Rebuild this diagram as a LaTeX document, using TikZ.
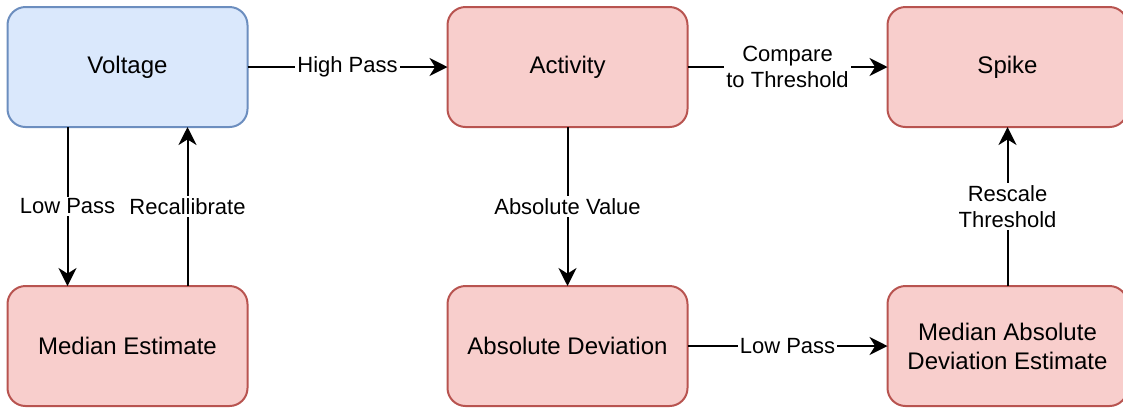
\documentclass[tikz,border=0pt]{standalone}
\usepackage{fontspec}
\setmainfont{Liberation Sans}
\usepackage{xcolor}
\usepackage{tikz}
\usetikzlibrary{arrows.meta,positioning,calc}

\definecolor{bluefill}{HTML}{DAE8FC}
\definecolor{blueline}{HTML}{6C8EBF}
\definecolor{redfill}{HTML}{F8CECC}
\definecolor{redline}{HTML}{B85450}

\begin{document}
\begin{tikzpicture}[
    font=\fontsize{12pt}{14.5pt}\selectfont,
    box/.style={rectangle, draw, line width=1pt, rounded corners=9pt, minimum width=120pt, minimum height=60pt, align=center, inner sep=0pt, outer sep=0pt},
    redbox/.style={box, fill=redfill, draw=redline},
    arrow/.style={-{Stealth[length=9pt, width=9pt, inset=2.8pt]}, line width=1pt},
    lbl/.style={fill=white, inner sep=1pt, align=center, font=\fontsize{11pt}{13pt}\selectfont}
]
    % Frame
    \useasboundingbox (0,0) rectangle (561.5pt,-204.5pt);

    % Top row
    \node[box, fill=bluefill, draw=blueline] (voltage) at (63.75pt,-33.5pt) {Voltage};
    \node[redbox, right=100pt of voltage] (activity) {Activity};
    \node[redbox, right=100pt of activity] (spike) {Spike};

    % Bottom row
    \node[redbox, below=79.5pt of voltage] (median) {Median Estimate};
    \node[redbox, below=79.5pt of activity] (absdev) {Absolute Deviation};
    \node[redbox, below=79.5pt of spike] (mad) {Median Absolute\\Deviation Estimate};

    % Median loop
    \draw[arrow] ([xshift=-30pt]voltage.south) -- node[lbl] {Low Pass} ([xshift=-30pt]median.north);
    \draw[arrow] ([xshift=30pt]median.north) -- node[lbl] {Recallibrate} ([xshift=30pt]voltage.south);

    % Detection chain
    \draw[arrow] (voltage) -- node[lbl] {High Pass} (activity);
    \draw[arrow] (activity) -- node[lbl] {Compare\\to Threshold} (spike);
    \draw[arrow] (activity) -- node[lbl] {Absolute Value} (absdev);
    \draw[arrow] (absdev) -- node[lbl] {Low Pass} (mad);
    \draw[arrow] (mad) -- node[lbl] {Rescale\\Threshold} (spike);

\end{tikzpicture}
\end{document}
